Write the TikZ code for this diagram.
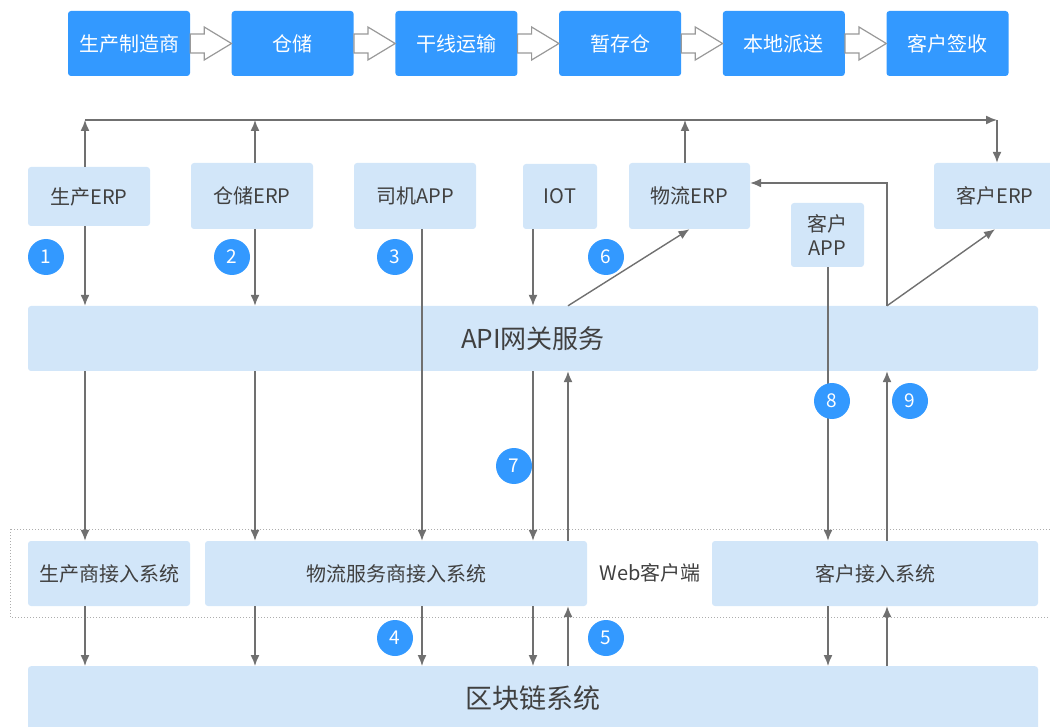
\documentclass[tikz,border=0pt]{standalone}
\usepackage{fontspec}
\setmainfont{Noto Sans CJK SC}
\usetikzlibrary{arrows.meta}
\definecolor{flowblue}{HTML}{3399FF}
\definecolor{paleblue}{HTML}{D2E6F9}
\definecolor{linegray}{HTML}{707070}
\definecolor{hollowgray}{HTML}{999999}
\definecolor{txtgray}{HTML}{404040}

\begin{document}
\begin{tikzpicture}[x=1pt,y=-1pt,
    flowbox/.style={fill=flowblue,text=white,rounded corners=3pt,minimum width=122pt,
        minimum height=65pt,inner sep=0pt,font=\fontsize{20}{24}\selectfont},
    sysbox/.style={fill=paleblue,text=txtgray,rounded corners=3pt,inner sep=0pt,
        font=\fontsize{20}{24}\selectfont},
    hollow/.style={draw=hollowgray,fill=white,line width=1.2pt},
    wire/.style={draw=linegray,line width=1.4pt},
    arr/.style={wire,-{Latex[length=11pt,width=9pt]}},
    badge/.style={circle,fill=flowblue,text=white,minimum size=36pt,inner sep=0pt,
        font=\fontsize{19}{19}\selectfont}]
    \useasboundingbox (0,0) rectangle (1050,727);

    % supply chain
    \foreach \t [count=\i] in {生产制造商,仓储,干线运输,暂存仓,本地派送,客户签收}
        \node[flowbox] (f\i) at ({129+(\i-1)*163.7},43.5) {\t};
    \foreach \i/\j in {1/2,2/3,3/4,4/5,5/6}
        \draw[hollow] ([yshift=9.5pt]f\i.east) -- ++(14pt,0pt) -- ++(0pt,7pt)
            -- (f\j.west) -- ([xshift=14pt,yshift=-16.5pt]f\i.east) -- ++(0pt,7pt)
            -- ([yshift=-9.5pt]f\i.east) -- cycle;

    % columns
    \coordinate (c1) at (85,0);
    \coordinate (c2) at (255,0);
    \coordinate (c3) at (422,0);
    \coordinate (c4) at (533,0);
    \coordinate (c5) at (568,0);
    \coordinate (c6) at (828,0);
    \coordinate (c7) at (887,0);
    \coordinate (c8) at (685,0);
    \coordinate (cr) at (997,0);
    \coordinate (bus) at (0,120);

    \draw[dotted,draw=hollowgray!80,line width=1pt] (10,529) rectangle (1060,617);

    \node[sysbox,minimum width=122pt,minimum height=59pt] (perp) at (89,196.5) {生产ERP};
    \node[sysbox,minimum width=122pt,minimum height=66pt] (werp) at (252,196) {仓储ERP};
    \node[sysbox,minimum width=122pt,minimum height=66pt] (drv) at (415,196) {司机APP};
    \node[sysbox,minimum width=74pt,minimum height=65pt] (iot) at (560,196.5) {IOT};
    \node[sysbox,minimum width=121pt,minimum height=66pt] (lerp) at (689.5,196) {物流ERP};
    \node[sysbox,minimum width=73pt,minimum height=64pt,align=center] (capp) at (827.5,235) {客户\\APP};
    \node[sysbox,minimum width=122pt,minimum height=66pt] (cerp) at (995,196) {客户ERP};

    \node[sysbox,minimum width=1010pt,minimum height=65pt,font=\fontsize{26}{30}\selectfont]
        (api) at (533,338.5) {API网关服务};

    \node[sysbox,minimum width=162pt,minimum height=65pt] (pacc) at (109,573.5) {生产商接入系统};
    \node[sysbox,minimum width=382pt,minimum height=65pt] (lacc) at (396,573.5) {物流服务商接入系统};
    \node[text=txtgray,font=\fontsize{20}{24}\selectfont] (web) at (650,573) {Web客户端};
    \node[sysbox,minimum width=326pt,minimum height=65pt] (cacc) at (875,573.5) {客户接入系统};

    \node[sysbox,minimum width=1010pt,minimum height=64pt,anchor=north,
        font=\fontsize{27}{30}\selectfont] (chain) at (533,666) {区块链系统};

    % bus on top
    \draw[arr] (perp.north -| c1) -- (bus -| c1);
    \draw[arr] (werp.north -| c2) -- (bus -| c2);
    \draw[arr] (lerp.north -| c8) -- (bus -| c8);
    \draw[arr] (bus -| c1) -- (bus -| cr);
    \draw[arr] (bus -| cr) -- (cerp.north -| cr);

    % into the gateway
    \draw[arr] (perp.south -| c1) -- (api.north -| c1);
    \draw[arr] (werp.south -| c2) -- (api.north -| c2);
    \draw[arr] (iot.south -| c4) -- (api.north -| c4);
    \draw[arr] (drv.south -| c3) -- (lacc.north -| c3);
    \draw[arr] (capp.south -| c6) -- (cacc.north -| c6);
    \draw[arr] (api.north -| c5) -- (lerp.south);
    \draw[arr] (api.north -| c7) -- (cerp.south);
    \draw[arr] (api.north -| c7) |- ([yshift=13pt]lerp.east);

    % down and up
    \foreach \c/\n in {c1/pacc,c2/lacc,c4/lacc}
        \draw[arr] (api.south -| \c) -- (\n.north -| \c);
    \foreach \c/\n in {c1/pacc,c2/lacc,c3/lacc,c4/lacc,c6/cacc}
        \draw[arr] (\n.south -| \c) -- (chain.north -| \c);
    \foreach \c/\n in {c5/lacc,c7/cacc}{
        \draw[arr] (chain.north -| \c) -- (\n.south -| \c);
        \draw[arr] (\n.north -| \c) -- (api.south -| \c);
    }

    \foreach \n/\x/\y in {1/46/257,2/232/257,3/395/257,6/606/257,7/514/466,
                          8/832/401,9/910/401,4/395/638,5/606/638}
        \node[badge] (b\n) at (\x,\y) {\n};
\end{tikzpicture}
\end{document}
